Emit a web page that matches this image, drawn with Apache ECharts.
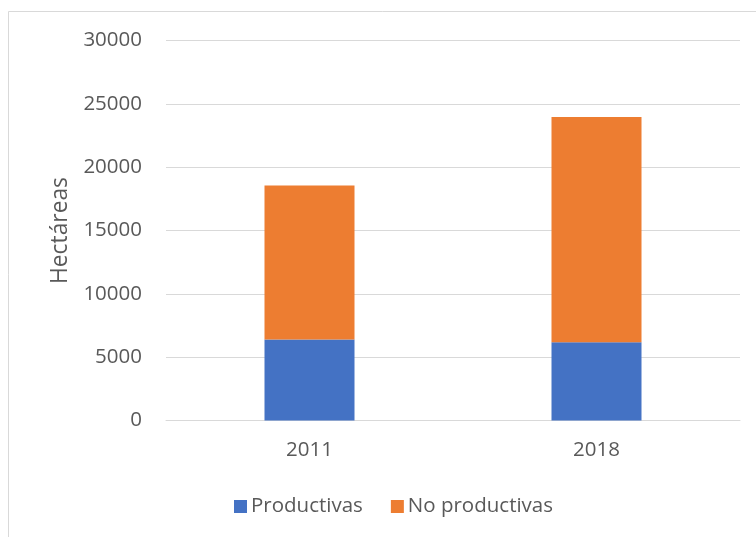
<!DOCTYPE html>
<html>
<head>
<meta charset="utf-8">
<script src="https://cdn.jsdelivr.net/npm/echarts@6/dist/echarts.min.js"></script>
<style>
  html, body { margin: 0; padding: 0; background: #ffffff; }
  #chart { width: 756px; height: 537px; }
</style>
</head>
<body>
<div id="chart"></div>
<script>
// Superficie (hectáreas) por año
const years = ['2011', '2018'];
const productivas = [6400, 6170];
const noProductivas = [12160, 17800];
const yTicks = { min: 0, max: 30000, interval: 5000 };

const textColor = '#595959';
const gridColor = '#d9d9d9';
const fontFamily = '"Open Sans", "Liberation Sans", sans-serif';

const chart = echarts.init(document.getElementById('chart'), null, { renderer: 'canvas' });

chart.setOption({
  animation: false,
  backgroundColor: '#ffffff',
  graphic: [{
    type: 'rect',
    shape: { x: 8.5, y: 11.5, width: 800, height: 600 },
    style: { fill: 'none', stroke: gridColor, lineWidth: 1 },
    silent: true
  }],
  grid: { left: 166, right: 16, top: 40.5, bottom: 116.5, containLabel: false },
  legend: {
    left: 229,
    top: 491,
    itemWidth: 13,
    itemHeight: 13,
    itemGap: 28,
    icon: 'rect',
    textStyle: { color: textColor, fontSize: 20.5, fontFamily: fontFamily, padding: [0, 0, 0, -1] },
    data: ['Productivas', 'No productivas']
  },
  xAxis: {
    type: 'category',
    data: years,
    axisLine: { show: true, lineStyle: { color: gridColor, width: 1 } },
    axisTick: { show: false },
    axisLabel: { color: textColor, fontSize: 20.5, fontFamily: fontFamily, margin: 19 }
  },
  yAxis: {
    type: 'value',
    min: yTicks.min,
    max: yTicks.max,
    interval: yTicks.interval,
    name: 'Hectáreas',
    nameLocation: 'middle',
    nameGap: 94,
    nameRotate: 90,
    nameTextStyle: { color: textColor, fontSize: 22.8, fontFamily: fontFamily },
    axisLine: { show: false },
    axisTick: { show: false },
    axisLabel: {
      color: textColor, fontSize: 20.5, fontFamily: fontFamily, margin: 24,
      formatter: (v) => String(v)
    },
    splitLine: { lineStyle: { color: gridColor, width: 1 } }
  },
  series: [
    {
      name: 'Productivas',
      type: 'bar',
      stack: 'total',
      barWidth: 90,
      itemStyle: { color: '#4472C4' },
      data: productivas
    },
    {
      name: 'No productivas',
      type: 'bar',
      stack: 'total',
      barWidth: 90,
      itemStyle: { color: '#ED7D31' },
      data: noProductivas
    }
  ]
});
</script>
</body>
</html>
